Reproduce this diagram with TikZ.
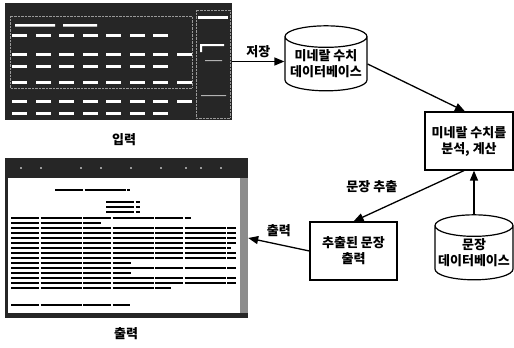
\documentclass[tikz,border=0pt]{standalone}
\usepackage{fontspec}
\newfontfamily\kr{Noto Sans CJK KR}
\usetikzlibrary{arrows.meta,shapes.geometric}

\begin{document}
\begin{tikzpicture}
[
	x=1pt, y=-1pt,
	every node/.style={font=\kr\bfseries\fontsize{13}{16}\selectfont},
	link/.style={-{Triangle[length=10pt,width=8pt]}, line width=1.3pt},
	procbox/.style={rectangle,draw,line width=1.2pt,align=center,inner sep=0pt},
	dbase/.style={cylinder,shape border rotate=90,draw,line width=1.2pt,aspect=0.3,align=center,inner sep=0pt},
	screen/.style={rectangle,fill=black!85,inner sep=0pt},
	textline/.style={line width=2.3pt,dash pattern=on 28pt off 1.5pt on 41pt off 1.5pt},
	caption/.style={font=\kr\bfseries\fontsize{13}{15}\selectfont}
]
	\useasboundingbox (0,0) rectangle (514,348);

	% screenshots
	\node[screen,minimum width=227pt,minimum height=117pt] (inscr) at (118.5,61.5) {};
	\node[screen,minimum width=243pt,minimum height=160pt] (outscr) at (126.5,238) {};

	% input screen: table of values
	\fill[white] (15,24) rectangle (55,26.5) (63,24) rectangle (97,26.5);
	\foreach \y/\n in {34/7,53/8,65/7,81/8,100/8,112/7}
		\foreach \i in {1,...,\n}
			\fill[white] ({12+(\i-1)*23.5},\y) rectangle ++(15,2.5);
	\draw[white!60!black,densely dotted] (10,16) rectangle (192,88);
	\draw[white!60!black,densely dotted] (196,10) rectangle (230,118);
	\fill[white] (198,16) rectangle (228,18.5);
	\fill[white] (200,44) rectangle (224,46) (200,44) rectangle (202,52);
	\fill[white!70!black] (205,60) rectangle (222,61) (201,95) rectangle (226,96);

	% output screen: text page
	\fill[white] (8,178) rectangle (240,313);
	\fill[white!55!black] (240,178) rectangle (248,313);
	\foreach \x in {20,40,80,100,130,160,185,200,220}
		\fill[white!60!black] (\x,167) rectangle ++(2,2);
	\draw[textline] (55,190) -- (130,190);
	\foreach \y in {202,207,212}
		\draw[textline,line width=1.8pt] (106,\y) -- (140,\y);
	\foreach \y/\w in {218/180,223/90,228/225,233/225,238/225,243/225,248/220,253/225,258/225,263/120,268/225,273/120,278/225,283/225,288/160}
		\draw[textline] (11,\y) -- (11+\w,\y);
	\draw[textline] (11,305) -- (130,305);

	% process nodes
	\node[dbase,minimum width=82pt,minimum height=65pt] (mindb) at (326,64) {미네랄 수치\\데이터베이스};
	\node[procbox,minimum width=88pt,minimum height=58pt] (calc) at (469,141) {미네랄 수치를\\분석, 계산};
	\node[procbox,minimum width=87pt,minimum height=58pt] (ext) at (353.5,251) {추출된 문장\\출력};
	\node[dbase,minimum width=78pt,minimum height=65pt] (sentdb) at (474,253) {문장\\데이터베이스};

	% captions
	\node[caption] (inlbl) at (124,140) {입력};
	\node[caption] (outlbl) at (126,334) {출력};

	% connectors
	\draw[link] (inscr.east) -- node[above] {저장} (inscr.east -| mindb.west);
	\draw[link] (mindb.east) -- ([xshift=-4pt]calc.north);
	\draw[link] (sentdb.north) -- (sentdb.north |- calc.south);
	\draw[link] ([xshift=-5pt]calc.south) -- node[above left=2pt,pos=0.55] {문장 추출} (ext.north);
	\draw[link] (ext.west) -- node[above,pos=0.5,yshift=4pt] {출력} (outscr.east);
\end{tikzpicture}
\end{document}
